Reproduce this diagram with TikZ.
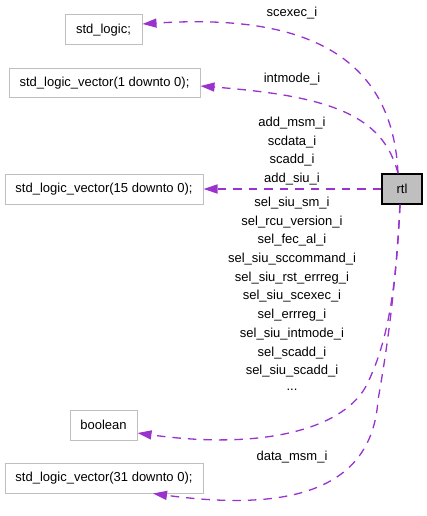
\documentclass[tikz,border=0pt]{standalone}
\usepackage{fontspec}
\setmainfont{Liberation Sans}
\usetikzlibrary{arrows.meta}
\definecolor{edgepurple}{HTML}{9A32CD}
\definecolor{boxgray}{HTML}{BFBFBF}

\begin{document}
\begin{tikzpicture}[x=1pt, y=-1pt,
		typebox/.style={draw=boxgray, line width=1pt, fill=white, inner sep=0pt, minimum height=30pt, font=\fontsize{13}{16}\selectfont},
		rtlbox/.style={draw=black, line width=1.3pt, fill=boxgray, inner sep=0pt, minimum width=40pt, minimum height=30pt, font=\fontsize{13}{16}\selectfont},
		siglabel/.style={inner sep=0pt, font=\fontsize{13}{16}\selectfont},
		dep/.style={draw=edgepurple, line width=1.3pt, dash pattern=on 8.5pt off 7pt, -{Triangle[length=14pt, width=9pt]}}]
		\useasboundingbox (0, 0) rectangle (427, 516);
		\node[typebox, minimum width=77pt] (stdlogic) at (103.5, 30) {std\_logic;};
		\node[typebox, minimum width=191pt, minimum height=29pt] (slvtwo) at (104.5, 83.5) {std\_logic\_vector(1 downto 0);};
		\node[typebox, minimum width=198pt] (slvsixteen) at (104, 189) {std\_logic\_vector(15 downto 0);};
		\node[rtlbox] (rtl) at (402, 189) {rtl};
		\node[typebox, minimum width=67pt] (bool) at (103.5, 425) {boolean};
		\node[typebox, minimum width=198pt] (slvthirtytwo) at (104, 478) {std\_logic\_vector(31 downto 0);};
		\draw[dep] ([xshift=-4pt]rtl.north) .. controls (392, 40) and (280, 15) .. ([yshift=6pt]stdlogic.east);
		\draw[dep] ([xshift=-4pt]rtl.north) .. controls (383, 115) and (330, 96) .. ([yshift=-2.5pt]slvtwo.east);
		\draw[dep] (rtl.west) -- (slvsixteen.east);
		\draw[dep] ([xshift=-2pt]rtl.south) .. controls (396, 300) and (385, 350) .. (365, 388)
			.. controls (340, 430) and (260, 450) .. ([yshift=-8pt]bool.east);
		\draw[dep] ([xshift=-2pt]rtl.south) .. controls (395, 300) and (385, 360) .. (378, 400)
			.. controls (372, 490) and (290, 512) .. ([xshift=49pt]slvthirtytwo.south);
		\node[siglabel] (scexec) at (292, 13) {scexec\_i};
		\node[siglabel] (intmode) at (292, 79) {intmode\_i};
		\foreach \lbl [count=\k] in {add\_msm\_i, scdata\_i, scadd\_i, add\_siu\_i}
			\node[siglabel] (addr\k) at (292, 104.3 + 18.7*\k) {\lbl};
		\foreach \lbl [count=\k] in {sel\_siu\_sm\_i, sel\_rcu\_version\_i, sel\_fec\_al\_i, sel\_siu\_sccommand\_i, sel\_siu\_rst\_errreg\_i, sel\_siu\_scexec\_i, sel\_errreg\_i, sel\_siu\_intmode\_i, sel\_scadd\_i, sel\_siu\_scadd\_i}
			\node[siglabel] (sel\k) at (292, 184.3 + 18.7*\k) {\lbl};
		\node[siglabel] (more) at (292, 390) {...};
		\node[siglabel] (datamsm) at (292, 457) {data\_msm\_i};
	\end{tikzpicture}
\end{document}
